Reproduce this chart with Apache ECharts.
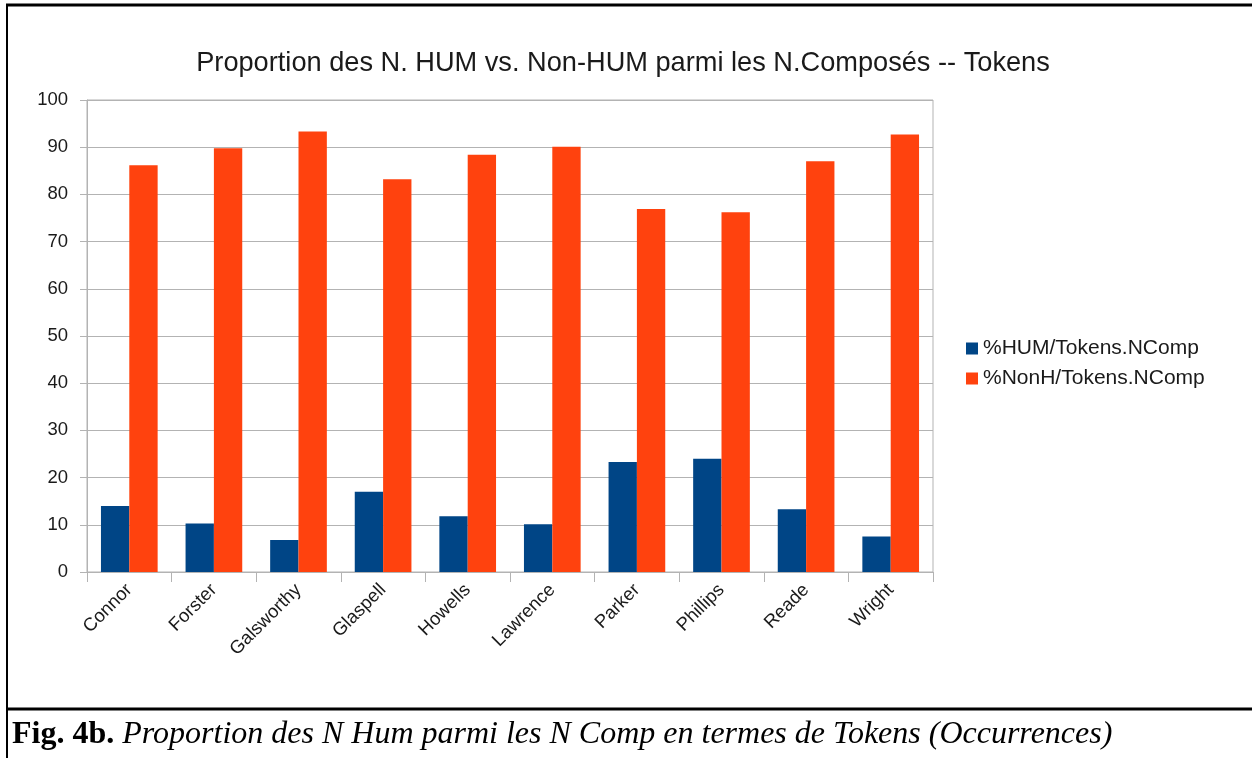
<!DOCTYPE html>
<html>
<head>
<meta charset="utf-8">
<script src="https://cdn.jsdelivr.net/npm/echarts@6/dist/echarts.min.js"></script>
<style>html,body{margin:0;padding:0;background:#fff;}#c{width:1252px;height:758px;}</style>
</head>
<body>
<div id="c"></div>
<script>
const categories = ['Connor','Forster','Galsworthy','Glaspell','Howells','Lawrence','Parker','Phillips','Reade','Wright'];
const humValues = [14.0, 10.3, 6.8, 17.0, 11.8, 10.1, 23.3, 24.0, 13.3, 7.5];
const nonHumValues = [86.2, 89.8, 93.3, 83.2, 88.4, 90.1, 76.9, 76.2, 87.0, 92.7];
const seriesNames = ['%HUM/Tokens.NComp', '%NonH/Tokens.NComp'];
const titleText = 'Proportion des N. HUM vs. Non-HUM parmi les N.Composés -- Tokens';
const captionBold = 'Fig. 4b.';
const captionItalic = ' Proportion des N Hum parmi les N Comp en termes de Tokens (Occurrences)';

const chart = echarts.init(document.getElementById('c'), null, {renderer: 'canvas'});
const font = 'Liberation Sans';
chart.setOption({
  animation: false,
  backgroundColor: '#fff',
  title: {
    text: titleText,
    left: 618, top: 45, textAlign: 'center',
    textStyle: {fontFamily: font, fontSize: 27.2, fontWeight: 'normal', color: '#1a1a1a'}
  },
  legend: {
    orient: 'vertical', left: 961, top: 333, itemGap: 9,
    itemWidth: 12, itemHeight: 12, icon: 'rect',
    textStyle: {fontFamily: font, fontSize: 21, color: '#1a1a1a'},
    data: seriesNames
  },
  grid: {left: 87, right: 319, top: 100, bottom: 186, containLabel: false,
    show: true, borderColor: '#b3b3b3', borderWidth: 1},
  xAxis: {
    type: 'category', data: categories,
    axisLine: {lineStyle: {color: '#b3b3b3'}},
    axisTick: {show: true, length: 10, alignWithLabel: false, lineStyle: {color: '#b3b3b3'}},
    axisLabel: {rotate: 45, margin: 15, fontFamily: font, fontSize: 18.5, color: '#1a1a1a'}
  },
  yAxis: {
    type: 'value', min: 0, max: 100, interval: 10,
    axisLine: {show: true, lineStyle: {color: '#b3b3b3'}},
    axisTick: {show: true, length: 7, lineStyle: {color: '#b3b3b3'}},
    axisLabel: {margin: 19, fontFamily: font, fontSize: 18.5, color: '#1a1a1a'},
    splitLine: {lineStyle: {color: '#b3b3b3'}}
  },
  series: [
    {name: seriesNames[0], type: 'bar', data: humValues, barGap: '0%', barCategoryGap: '33%',
     itemStyle: {color: '#004586'}},
    {name: seriesNames[1], type: 'bar', data: nonHumValues, barGap: '0%', barCategoryGap: '33%',
     itemStyle: {color: '#ff420e'}}
  ],
  graphic: [
    {type: 'line', shape: {x1: 6, y1: 5, x2: 1252, y2: 5}, style: {stroke: '#000', lineWidth: 3}},
    {type: 'line', shape: {x1: 7, y1: 4, x2: 7, y2: 758}, style: {stroke: '#000', lineWidth: 2}},
    {type: 'line', shape: {x1: 6, y1: 709, x2: 1252, y2: 709}, style: {stroke: '#000', lineWidth: 3}},
    {type: 'text', left: 12, top: 719, style: {
      text: '{b|' + captionBold + '}{i|' + captionItalic + '}',
      rich: {
        b: {fontFamily: 'Liberation Serif', fontWeight: 'bold', fontSize: 32, fill: '#000'},
        i: {fontFamily: 'Liberation Serif', fontStyle: 'italic', fontSize: 32, fill: '#000'}
      }
    }}
  ]
});
</script>
</body>
</html>
